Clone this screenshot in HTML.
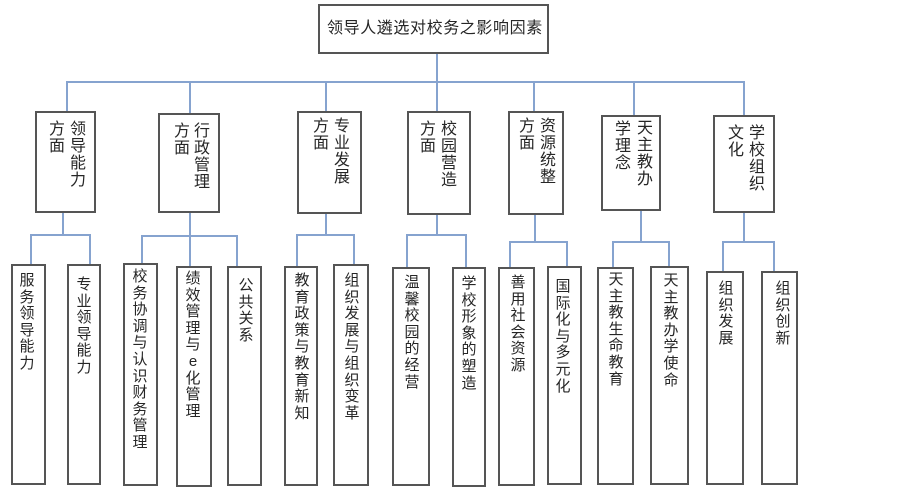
<!DOCTYPE html>
<html>
<head>
<meta charset="utf-8">
<style>
  html,body{margin:0;padding:0;background:#fff;}
  body{width:903px;height:488px;position:relative;overflow:hidden;
       font-family:"Liberation Sans","Noto Sans CJK SC",sans-serif;color:#262626;}
  .b{position:absolute;box-sizing:border-box;border:2px solid #555;background:#fff;}
  .c{position:absolute;width:20px;font-size:15px;line-height:16.6px;text-align:center;white-space:normal;}
  .cm{position:absolute;width:20px;font-size:16px;line-height:17px;text-align:center;}
  svg{position:absolute;left:0;top:0;}
</style>
</head>
<body>
<svg width="903" height="488" viewBox="0 0 903 488">
  <g stroke="#86a3cf" stroke-width="2" fill="none">
    <line x1="437" y1="54" x2="437" y2="82"/>
    <line x1="66" y1="82" x2="745" y2="82"/>
    <line x1="67" y1="82" x2="67" y2="111"/>
    <line x1="190" y1="82" x2="190" y2="113"/>
    <line x1="326" y1="82" x2="326" y2="111"/>
    <line x1="437" y1="82" x2="437" y2="111"/>
    <line x1="534" y1="82" x2="534" y2="111"/>
    <line x1="634" y1="82" x2="634" y2="115"/>
    <line x1="744" y1="82" x2="744" y2="115"/>
    <line x1="63" y1="213" x2="63" y2="235"/>
    <line x1="30" y1="235" x2="91" y2="235"/>
    <line x1="31" y1="235" x2="31" y2="264"/>
    <line x1="90" y1="235" x2="90" y2="264"/>
    <line x1="190" y1="213" x2="190" y2="266"/>
    <line x1="141" y1="236" x2="238" y2="236"/>
    <line x1="142" y1="236" x2="142" y2="263"/>
    <line x1="237" y1="236" x2="237" y2="266"/>
    <line x1="326" y1="214" x2="326" y2="235"/>
    <line x1="296" y1="235" x2="355" y2="235"/>
    <line x1="297" y1="235" x2="297" y2="266"/>
    <line x1="354" y1="235" x2="354" y2="264"/>
    <line x1="437" y1="215" x2="437" y2="235"/>
    <line x1="406" y1="235" x2="467" y2="235"/>
    <line x1="407" y1="235" x2="407" y2="267"/>
    <line x1="466" y1="235" x2="466" y2="267"/>
    <line x1="535" y1="215" x2="535" y2="242"/>
    <line x1="509" y1="242" x2="568" y2="242"/>
    <line x1="510" y1="242" x2="510" y2="267"/>
    <line x1="567" y1="242" x2="567" y2="266"/>
    <line x1="641" y1="211" x2="641" y2="242"/>
    <line x1="612" y1="242" x2="670" y2="242"/>
    <line x1="613" y1="242" x2="613" y2="267"/>
    <line x1="669" y1="242" x2="669" y2="266"/>
    <line x1="744" y1="213" x2="744" y2="242"/>
    <line x1="722" y1="242" x2="775" y2="242"/>
    <line x1="723" y1="242" x2="723" y2="271"/>
    <line x1="774" y1="242" x2="774" y2="271"/>
  </g>
</svg>

<div class="b" style="left:318px;top:4px;width:231px;height:50px;"></div>
<div style="position:absolute;left:327px;top:19px;font-size:16px;line-height:20px;letter-spacing:0.6px;white-space:nowrap;">领导人遴选对校务之影响因素</div>

<div class="b" style="left:35px;top:111px;width:61px;height:102px;"></div>
<div class="cm" style="left:68px;top:121px;">领<br>导<br>能<br>力</div>
<div class="cm" style="left:47px;top:121px;">方<br>面</div>

<div class="b" style="left:158px;top:113px;width:62px;height:100px;"></div>
<div class="cm" style="left:192px;top:123px;">行<br>政<br>管<br>理</div>
<div class="cm" style="left:172px;top:123px;">方<br>面</div>

<div class="b" style="left:297px;top:111px;width:65px;height:103px;"></div>
<div class="cm" style="left:332px;top:118px;">专<br>业<br>发<br>展</div>
<div class="cm" style="left:311px;top:118px;">方<br>面</div>

<div class="b" style="left:407px;top:111px;width:64px;height:104px;"></div>
<div class="cm" style="left:439px;top:121px;">校<br>园<br>营<br>造</div>
<div class="cm" style="left:418px;top:121px;">方<br>面</div>

<div class="b" style="left:508px;top:111px;width:56px;height:104px;"></div>
<div class="cm" style="left:538px;top:118px;">资<br>源<br>统<br>整</div>
<div class="cm" style="left:517px;top:118px;">方<br>面</div>

<div class="b" style="left:601px;top:115px;width:60px;height:96px;"></div>
<div class="cm" style="left:635px;top:120px;">天<br>主<br>教<br>办</div>
<div class="cm" style="left:613px;top:121px;">学<br>理<br>念</div>

<div class="b" style="left:713px;top:115px;width:62px;height:98px;"></div>
<div class="cm" style="left:747px;top:125px;">学<br>校<br>组<br>织</div>
<div class="cm" style="left:726px;top:125px;">文<br>化</div>

<div class="b" style="left:11px;top:264px;width:35px;height:221px;"></div>
<div class="c" style="left:17px;top:273px;">服<br>务<br>领<br>导<br>能<br>力</div>

<div class="b" style="left:67px;top:264px;width:34px;height:221px;"></div>
<div class="c" style="left:74px;top:277px;">专<br>业<br>领<br>导<br>能<br>力</div>

<div class="b" style="left:123px;top:263px;width:35px;height:223px;"></div>
<div class="c" style="left:130px;top:269px;">校<br>务<br>协<br>调<br>与<br>认<br>识<br>财<br>务<br>管<br>理</div>

<div class="b" style="left:176px;top:266px;width:36px;height:221px;"></div>
<div class="c" style="left:183px;top:271px;">绩<br>效<br>管<br>理<br>与<br>e<br>化<br>管<br>理</div>

<div class="b" style="left:227px;top:266px;width:35px;height:220px;"></div>
<div class="c" style="left:236px;top:278px;">公<br>共<br>关<br>系</div>

<div class="b" style="left:284px;top:266px;width:34px;height:220px;"></div>
<div class="c" style="left:292px;top:273px;">教<br>育<br>政<br>策<br>与<br>教<br>育<br>新<br>知</div>

<div class="b" style="left:333px;top:264px;width:36px;height:222px;"></div>
<div class="c" style="left:342px;top:273px;">组<br>织<br>发<br>展<br>与<br>组<br>织<br>变<br>革</div>

<div class="b" style="left:392px;top:267px;width:38px;height:219px;"></div>
<div class="c" style="left:402px;top:275px;">温<br>馨<br>校<br>园<br>的<br>经<br>营</div>

<div class="b" style="left:452px;top:267px;width:34px;height:220px;"></div>
<div class="c" style="left:459px;top:276px;">学<br>校<br>形<br>象<br>的<br>塑<br>造</div>

<div class="b" style="left:498px;top:267px;width:37px;height:219px;"></div>
<div class="c" style="left:508px;top:275px;">善<br>用<br>社<br>会<br>资<br>源</div>

<div class="b" style="left:547px;top:266px;width:35px;height:219px;"></div>
<div class="c" style="left:553px;top:279px;">国<br>际<br>化<br>与<br>多<br>元<br>化</div>

<div class="b" style="left:597px;top:267px;width:37px;height:218px;"></div>
<div class="c" style="left:606px;top:272px;">天<br>主<br>教<br>生<br>命<br>教<br>育</div>

<div class="b" style="left:650px;top:266px;width:39px;height:219px;"></div>
<div class="c" style="left:661px;top:273px;">天<br>主<br>教<br>办<br>学<br>使<br>命</div>

<div class="b" style="left:706px;top:271px;width:38px;height:214px;"></div>
<div class="c" style="left:716px;top:281px;">组<br>织<br>发<br>展</div>

<div class="b" style="left:761px;top:271px;width:37px;height:214px;"></div>
<div class="c" style="left:773px;top:281px;">组<br>织<br>创<br>新</div>
</body>
</html>
